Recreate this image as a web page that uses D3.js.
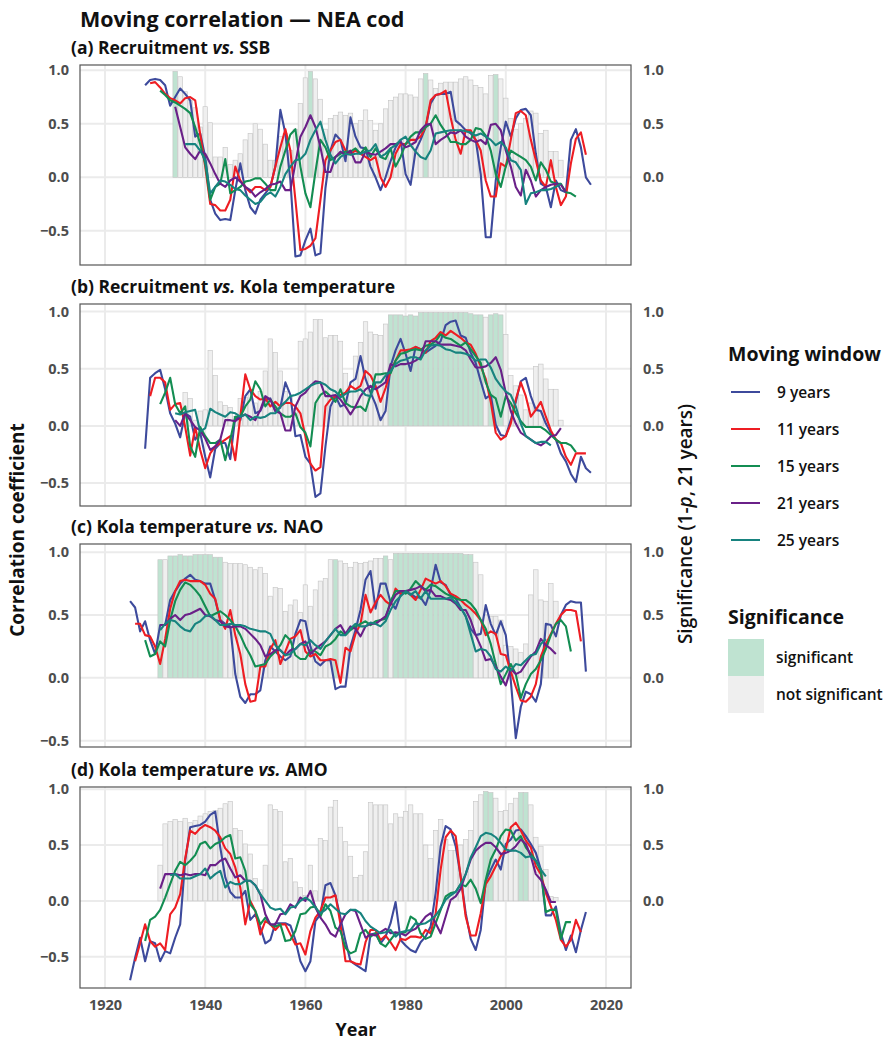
<!DOCTYPE html>
<html>
<head>
<meta charset="utf-8">
<script src="https://cdnjs.cloudflare.com/ajax/libs/d3/7.8.5/d3.min.js"></script>
<style>
  body { margin: 0; background: #fff; }
  svg { font-family: "Open Sans", "Noto Sans", sans-serif; }
</style>
</head>
<body>
<script>
// ---- data ----
const windows = ['9 years', '11 years', '15 years', '21 years', '25 years'];

// (a) Recruitment vs. SSB
const aStart = [1928, 1929, 1931, 1934, 1936];
const aW9 = [0.86, 0.91, 0.92, 0.91, 0.86, 0.67, 0.75, 0.83, 0.78, 0.72,
  0.38, 0.41, 0.19, -0.21, -0.34, -0.40, -0.39, -0.40, -0.12, 0.13,
  -0.12, -0.28, -0.34, -0.21, -0.15, -0.09, 0.10, 0.63, 0.41, -0.03,
  -0.74, -0.73, -0.59, -0.48, -0.73, -0.71, -0.10, 0.25, 0.40, 0.35,
  0.15, 0.56, 0.38, 0.28, 0.27, 0.10, 0.0, -0.12, 0.0, 0.15,
  0.28, 0.35, 0.03, -0.07, 0.25, 0.35, 0.47, 0.69, 0.77, 0.78,
  0.78, 0.80, 0.53, 0.49, 0.44, 0.41, 0.35, 0.03, -0.56, -0.56,
  -0.03, 0.28, 0.52, 0.38, 0.55, 0.63, 0.64, 0.58, 0.22, -0.06,
  -0.09, -0.28, -0.03, -0.12, -0.14, 0.35, 0.45, 0.28, 0.0, -0.07];
const aW11 = [0.88, 0.89, 0.84, 0.78, 0.74, 0.72, 0.69, 0.74, 0.75, 0.72,
  0.40, 0.10, -0.25, -0.26, -0.31, -0.31, -0.21, 0.10, -0.03, -0.09,
  -0.14, -0.09, -0.09, -0.12, -0.09, 0.10, 0.28, 0.45, 0.25, -0.21,
  -0.68, -0.67, -0.64, -0.57, -0.21, 0.16, 0.25, 0.33, 0.35, 0.25,
  0.22, 0.25, 0.22, 0.19, 0.16, 0.19, 0.0, -0.09, 0.0, 0.22,
  0.31, 0.31, 0.35, 0.35, 0.38, 0.47, 0.72, 0.77, 0.78, 0.81,
  0.56, 0.35, 0.22, 0.44, 0.44, 0.35, 0.25, -0.03, -0.18, -0.18,
  0.13, 0.10, 0.35, 0.60, 0.62, 0.58, 0.35, 0.16, -0.03, -0.09,
  0.16, -0.09, -0.26, -0.18, 0.13, 0.36, 0.42, 0.21];
const aW15 = [0.81, 0.77, 0.72, 0.70, 0.67, 0.64, 0.60, 0.47, 0.31, 0.13,
  -0.21, -0.09, -0.06, 0.17, -0.15, -0.12, -0.09, -0.04, -0.03, -0.01,
  -0.01, -0.06, -0.12, -0.12, 0.10, 0.25, 0.40, 0.45, 0.10, -0.15,
  -0.28, 0.05, 0.35, 0.28, 0.16, 0.19, 0.22, 0.24, 0.24, 0.27,
  0.22, 0.28, 0.19, 0.27, 0.19, 0.17, 0.27, 0.10, 0.19, 0.31,
  0.38, 0.42, 0.42, 0.47, 0.50, 0.58, 0.49, 0.42, 0.33, 0.33,
  0.31, 0.31, 0.35, 0.46, 0.45, 0.39, 0.25, 0.03, -0.09, 0.10,
  0.25, 0.22, 0.19, 0.16, 0.10, -0.03, 0.14, 0.07, -0.04, -0.06,
  -0.06, -0.14, -0.15, -0.18];
const aW21 = [0.66, 0.47, 0.28, 0.22, 0.17, 0.25, 0.22, 0.13, 0.03, -0.06,
  -0.09, -0.03, 0.0, -0.04, -0.09, -0.12, -0.18, -0.14, -0.11, -0.07,
  -0.06, -0.04, -0.12, -0.12, 0.13, 0.38, 0.47, 0.58, 0.47, 0.28,
  0.05, 0.05, 0.19, 0.24, 0.21, 0.25, 0.14, 0.14, 0.24, 0.22,
  0.21, 0.24, 0.27, 0.31, 0.31, 0.33, 0.28, 0.30, 0.33, 0.44,
  0.49, 0.50, 0.31, 0.35, 0.38, 0.42, 0.41, 0.44, 0.38, 0.35,
  0.33, 0.35, 0.31, 0.49, 0.50, 0.44, 0.25, 0.10, -0.09, -0.17,
  0.07, -0.03, -0.18, -0.12, -0.09, -0.07, -0.06, -0.07, -0.14];
const aW25 = [0.31, 0.31, 0.31, 0.25, 0.16, -0.15, -0.09, -0.03, -0.04, -0.07,
  -0.11, -0.12, -0.17, -0.21, -0.25, -0.23, -0.17, -0.14, -0.18, -0.09,
  0.03, 0.10, 0.16, 0.17, 0.22, 0.35, 0.44, 0.52, 0.35, 0.21,
  0.13, 0.19, 0.22, 0.21, 0.22, 0.22, 0.24, 0.25, 0.31, 0.19,
  0.22, 0.27, 0.30, 0.35, 0.38, 0.30, 0.24, 0.19, 0.17, 0.25,
  0.41, 0.42, 0.43, 0.44, 0.44, 0.44, 0.43, 0.42, 0.39, 0.41,
  0.38, 0.35, 0.30, 0.33, 0.28, 0.16, 0.14, 0.07, -0.25, -0.15,
  -0.14, -0.12, -0.12, -0.11, -0.09, -0.06];
const aBarStart = 1934;
const aBars = [0.99, 0.94, 0.80, 0.72, 0.65, 0.47, 0.66, 0.51, 0.19, 0.19,
  0.28, 0.12, 0.16, 0.22, 0.35, 0.41, 0.50, 0.45, 0.31, 0.16,
  0.16, 0.38, 0.41, 0.25, 0.45, 0.69, 0.93, 0.99, 0.92, 0.73,
  0.45, 0.55, 0.58, 0.61, 0.58, 0.60, 0.50, 0.53, 0.63, 0.53,
  0.44, 0.50, 0.64, 0.72, 0.75, 0.78, 0.78, 0.77, 0.75, 0.92,
  0.97, 0.91, 0.83, 0.88, 0.89, 0.89, 0.89, 0.92, 0.94, 0.91,
  0.86, 0.84, 0.78, 0.95, 0.96, 0.92, 0.74, 0.55, 0.45, 0.50,
  0.55, 0.62, 0.60, 0.41, 0.44, 0.24, 0.24, 0.16];
const aSig = [1934, 1961, 1984, 1998];

// (b) Recruitment vs. Kola temperature
const bStart = [1928, 1929, 1931, 1934, 1934];
const bW9 = [-0.20, 0.42, 0.46, 0.49, 0.32, 0.11, 0.02, -0.10, 0.11, 0.08,
  -0.12, -0.06, -0.27, -0.45, -0.20, -0.15, -0.15, -0.29, 0.08, 0.05,
  0.26, 0.32, 0.11, 0.13, 0.23, 0.24, 0.13, 0.16, 0.38, 0.27,
  -0.09, -0.08, -0.27, -0.33, -0.62, -0.59, -0.18, 0.17, 0.26, 0.17,
  0.19, 0.38, 0.41, 0.61, 0.41, 0.29, 0.19, 0.05, 0.13, 0.52,
  0.66, 0.76, 0.63, 0.48, 0.69, 0.67, 0.64, 0.67, 0.70, 0.74,
  0.88, 0.91, 0.92, 0.79, 0.77, 0.64, 0.55, 0.39, 0.24, 0.27,
  0.01, -0.08, -0.09, 0.05, 0.21, 0.39, 0.42, 0.26, 0.14, 0.13,
  0.02, -0.06, -0.12, -0.24, -0.31, -0.42, -0.49, -0.27, -0.37, -0.41];
const bW11 = [0.26, 0.42, 0.42, 0.38, 0.14, 0.19, 0.20, -0.01, -0.26, -0.01,
  -0.21, -0.37, -0.24, -0.18, -0.15, -0.12, -0.09, -0.30, 0.08, 0.45,
  0.32, 0.26, 0.23, 0.24, 0.17, 0.21, 0.17, 0.20, 0.20, 0.17,
  0.11, -0.09, -0.33, -0.39, -0.36, 0.17, 0.23, 0.26, 0.27, 0.29,
  0.35, 0.32, 0.35, 0.48, 0.44, 0.35, 0.21, 0.33, 0.48, 0.57,
  0.66, 0.66, 0.67, 0.69, 0.67, 0.64, 0.74, 0.77, 0.82, 0.79,
  0.83, 0.80, 0.77, 0.73, 0.71, 0.63, 0.52, 0.41, 0.21, -0.06,
  -0.12, -0.09, 0.02, 0.23, 0.38, 0.26, 0.08, 0.14, 0.21, 0.08,
  -0.04, -0.12, -0.15, -0.27, -0.34, -0.24, -0.24, -0.24];
const bW15 = [0.19, 0.29, 0.42, 0.19, 0.11, 0.17, -0.18, -0.27, -0.01, -0.09,
  -0.15, -0.15, -0.12, -0.30, -0.12, 0.08, 0.08, 0.17, 0.23, 0.39,
  0.32, 0.17, 0.23, 0.17, 0.11, 0.08, 0.08, 0.11, -0.01, -0.06,
  -0.18, 0.20, 0.27, 0.30, 0.26, 0.21, 0.32, 0.20, 0.17, 0.16,
  0.17, 0.13, 0.27, 0.45, 0.45, 0.46, 0.46, 0.57, 0.63, 0.64,
  0.66, 0.67, 0.66, 0.70, 0.71, 0.74, 0.80, 0.77, 0.76, 0.73,
  0.70, 0.73, 0.67, 0.61, 0.55, 0.38, 0.27, 0.24, 0.08, 0.26,
  0.20, 0.11, 0.04, -0.01, -0.01, -0.01, -0.01, -0.04, -0.08, -0.12,
  -0.15, -0.15, -0.17, -0.23];
const bW21 = [0.05, 0.0, 0.11, 0.05, -0.01, -0.04, -0.11, -0.21, -0.18, -0.12,
  0.05, 0.05, 0.04, 0.08, 0.10, 0.08, 0.05, 0.14, 0.26, 0.23,
  0.13, 0.11, -0.04, -0.04, 0.17, 0.26, 0.29, 0.35, 0.39, 0.38,
  0.26, 0.26, 0.27, 0.23, 0.17, 0.10, 0.17, 0.26, 0.32, 0.35,
  0.32, 0.35, 0.38, 0.54, 0.52, 0.54, 0.54, 0.55, 0.57, 0.60,
  0.74, 0.74, 0.74, 0.71, 0.71, 0.71, 0.70, 0.69, 0.66, 0.58,
  0.51, 0.51, 0.52, 0.55, 0.60, 0.49, 0.29, 0.13, 0.02, -0.06,
  -0.09, -0.12, -0.15, -0.17, -0.14, -0.09, -0.08, -0.02];
const bW25 = [0.11, 0.10, 0.12, 0.13, 0.14, -0.05, -0.02, 0.15, 0.12, 0.10,
  0.08, 0.12, 0.11, 0.08, 0.10, 0.05, 0.08, 0.07, 0.08, 0.11,
  0.11, 0.17, 0.21, 0.26, 0.27, 0.29, 0.32, 0.35, 0.37, 0.38,
  0.36, 0.32, 0.30, 0.25, 0.28, 0.30, 0.30, 0.32, 0.27, 0.26,
  0.38, 0.38, 0.44, 0.48, 0.54, 0.57, 0.58, 0.60, 0.60, 0.58,
  0.66, 0.70, 0.71, 0.70, 0.67, 0.66, 0.64, 0.64, 0.63, 0.61,
  0.57, 0.58, 0.58, 0.51, 0.41, 0.35, 0.30, 0.27, 0.17, 0.02,
  -0.09, -0.12, -0.15, -0.14, -0.14, -0.17];
const bBarStart = 1936;
const bBars = [0.29, 0.24, 0.05, 0.13, 0.14, 0.66, 0.44, 0.21, 0.18, 0.16,
  0.08, 0.24, 0.25, 0.30, 0.20, 0.30, 0.48, 0.76, 0.64, 0.48,
  0.30, 0.25, 0.15, 0.74, 0.76, 0.82, 0.93, 0.93, 0.77, 0.79,
  0.79, 0.74, 0.46, 0.30, 0.61, 0.73, 0.91, 0.82, 0.80, 0.79,
  0.89, 0.97, 0.97, 0.97, 0.96, 0.97, 0.96, 0.99, 0.99, 0.99,
  0.99, 0.99, 0.99, 0.99, 0.99, 0.99, 0.99, 0.98, 0.97, 0.97,
  0.95, 0.97, 0.98, 0.97, 0.80, 0.44, 0.35, 0.27, 0.14, 0.20,
  0.52, 0.54, 0.41, 0.32, 0.32, 0.05];
const bSig = [1977, 1978, 1979, 1980, 1981, 1982, 1983, 1984, 1985, 1986, 1987,
  1988, 1989, 1990, 1991, 1992, 1993, 1994, 1995, 1997, 1998, 1999];

// (c) Kola temperature vs. NAO
const cStart = [1925, 1926, 1928, 1931, 1931];
const cW9 = [0.61, 0.56, 0.37, 0.45, 0.30, 0.19, 0.42, 0.42, 0.62, 0.69,
  0.75, 0.79, 0.82, 0.78, 0.77, 0.75, 0.75, 0.62, 0.46, 0.43,
  0.41, 0.03, -0.15, -0.20, -0.13, -0.13, -0.10, 0.14, 0.25, 0.21,
  0.17, 0.14, 0.17, 0.35, 0.46, 0.45, 0.25, 0.13, 0.10, 0.14,
  0.14, -0.09, -0.07, -0.07, 0.25, 0.38, 0.54, 0.78, 0.85, 0.55,
  0.75, 0.75, 0.60, 0.55, 0.66, 0.68, 0.67, 0.64, 0.64, 0.58,
  0.70, 0.90, 0.76, 0.74, 0.66, 0.63, 0.56, 0.49, 0.39, 0.34,
  0.35, 0.58, 0.43, 0.34, 0.45, 0.34, -0.02, -0.48, -0.23, -0.11,
  -0.13, -0.19, -0.05, 0.43, 0.42, 0.33, 0.50, 0.58, 0.61, 0.60,
  0.60, 0.05];
const cW11 = [0.43, 0.43, 0.34, 0.33, 0.25, 0.11, 0.31, 0.55, 0.69, 0.77,
  0.78, 0.77, 0.77, 0.77, 0.74, 0.67, 0.63, 0.46, 0.39, 0.54,
  0.34, 0.19, -0.05, -0.19, -0.18, 0.09, 0.09, 0.23, 0.30, 0.11,
  0.21, 0.31, 0.33, 0.38, 0.21, 0.17, 0.19, 0.14, 0.14, 0.15,
  0.14, -0.04, 0.24, 0.21, 0.35, 0.43, 0.66, 0.52, 0.60, 0.66,
  0.61, 0.58, 0.71, 0.67, 0.69, 0.66, 0.62, 0.70, 0.79, 0.77,
  0.75, 0.77, 0.73, 0.67, 0.65, 0.62, 0.58, 0.55, 0.51, 0.46,
  0.34, 0.37, 0.35, 0.19, 0.18, 0.05, -0.07, -0.18, -0.19, -0.15,
  -0.05, 0.17, 0.27, 0.35, 0.43, 0.50, 0.54, 0.54, 0.53, 0.29];
const cW15 = [0.30, 0.17, 0.19, 0.29, 0.25, 0.46, 0.61, 0.70, 0.76, 0.74,
  0.70, 0.65, 0.57, 0.49, 0.51, 0.53, 0.50, 0.46, 0.41, 0.34,
  0.25, 0.18, 0.09, 0.10, 0.11, 0.17, 0.21, 0.26, 0.34, 0.30,
  0.18, 0.15, 0.15, 0.22, 0.21, 0.18, 0.25, 0.27, 0.31, 0.37,
  0.34, 0.38, 0.41, 0.43, 0.45, 0.42, 0.45, 0.46, 0.47, 0.61,
  0.69, 0.69, 0.67, 0.71, 0.77, 0.73, 0.70, 0.74, 0.73, 0.70,
  0.67, 0.65, 0.63, 0.62, 0.62, 0.59, 0.54, 0.46, 0.39, 0.27,
  0.11, -0.05, 0.03, 0.11, 0.03, -0.16, -0.05, 0.03, 0.07, 0.14,
  0.23, 0.34, 0.43, 0.46, 0.41, 0.21];
const cW21 = [0.42, 0.42, 0.47, 0.50, 0.46, 0.50, 0.51, 0.53, 0.55, 0.50,
  0.49, 0.46, 0.45, 0.41, 0.40, 0.41, 0.41, 0.39, 0.35, 0.31,
  0.26, 0.17, 0.19, 0.22, 0.22, 0.18, 0.22, 0.23, 0.27, 0.29,
  0.19, 0.23, 0.26, 0.29, 0.34, 0.39, 0.42, 0.35, 0.41, 0.39,
  0.33, 0.41, 0.43, 0.43, 0.46, 0.49, 0.59, 0.66, 0.69, 0.69,
  0.70, 0.71, 0.73, 0.69, 0.70, 0.65, 0.65, 0.63, 0.62, 0.59,
  0.54, 0.54, 0.46, 0.34, 0.25, 0.14, 0.15, 0.09, 0.01, -0.06,
  0.07, 0.03, 0.05, 0.11, 0.17, 0.21, 0.31, 0.26, 0.23, 0.19];
const cW25 = [0.38, 0.43, 0.46, 0.45, 0.41, 0.38, 0.37, 0.43, 0.45, 0.49,
  0.50, 0.46, 0.42, 0.42, 0.43, 0.42, 0.42, 0.41, 0.39, 0.38,
  0.37, 0.37, 0.35, 0.26, 0.22, 0.18, 0.19, 0.23, 0.27, 0.26,
  0.30, 0.26, 0.23, 0.29, 0.34, 0.39, 0.34, 0.34, 0.39, 0.43,
  0.41, 0.41, 0.44, 0.43, 0.41, 0.45, 0.54, 0.61, 0.65, 0.69,
  0.66, 0.69, 0.63, 0.69, 0.63, 0.63, 0.63, 0.63, 0.64, 0.60,
  0.56, 0.49, 0.35, 0.21, 0.23, 0.22, 0.17, 0.07, 0.05, 0.09,
  0.06, 0.11, 0.10, 0.14, 0.18, 0.19, 0.27, 0.31];
const cBarStart = 1931;
const cBars = [0.94, 0.94, 0.97, 0.97, 0.98, 0.97, 0.97, 0.98, 0.98, 0.98,
  0.98, 0.96, 0.96, 0.92, 0.91, 0.91, 0.91, 0.90, 0.88, 0.86,
  0.88, 0.83, 0.65, 0.72, 0.71, 0.53, 0.58, 0.62, 0.52, 0.74,
  0.57, 0.70, 0.77, 0.79, 0.94, 0.94, 0.93, 0.91, 0.88, 0.92,
  0.91, 0.92, 0.93, 0.95, 0.95, 0.97, 0.94, 0.99, 0.99, 0.99,
  0.99, 0.99, 0.99, 0.99, 0.99, 0.99, 0.99, 0.99, 0.99, 0.99,
  0.99, 0.98, 0.98, 0.92, 0.82, 0.50, 0.49, 0.49, 0.46, 0.26,
  0.25, 0.23, 0.20, 0.27, 0.66, 0.86, 0.62, 0.61, 0.75, 0.61];
const cSig = [1931, 1933, 1934, 1935, 1936, 1937, 1938, 1939, 1940, 1941, 1942, 1943,
  1966, 1976, 1978, 1979, 1980, 1981, 1982, 1983, 1984, 1985, 1986, 1987,
  1988, 1989, 1990, 1991, 1992, 1993];

// (d) Kola temperature vs. AMO
const dStart = [1925, 1926, 1928, 1931, 1933];
const dW9 = [-0.71, -0.51, -0.33, -0.54, -0.36, -0.38, -0.54, -0.45, -0.47, -0.33,
  -0.21, 0.36, 0.66, 0.67, 0.68, 0.71, 0.77, 0.80, 0.48, 0.21,
  0.08, 0.03, 0.03, 0.09, -0.17, -0.12, -0.24, -0.38, -0.35, -0.20,
  -0.20, -0.20, -0.22, -0.35, -0.54, -0.63, -0.54, -0.18, -0.12, 0.14,
  0.16, 0.05, -0.15, -0.36, -0.54, -0.57, -0.60, -0.63, -0.30, -0.29,
  -0.38, -0.32, -0.20, -0.01, -0.35, -0.40, -0.44, -0.46, -0.37, -0.32,
  -0.23, 0.07, 0.49, 0.67, 0.64, 0.49, 0.22, -0.11, -0.34, -0.44,
  -0.26, 0.18, 0.28, 0.37, 0.28, 0.51, 0.55, 0.63, 0.64, 0.58,
  0.51, 0.43, 0.28, -0.13, -0.13, -0.05, -0.29, -0.44, -0.31, -0.46,
  -0.26, -0.10];
const dW11 = [-0.54, -0.38, -0.21, -0.36, -0.41, -0.38, -0.44, -0.12, -0.06, 0.06,
  0.38, 0.63, 0.60, 0.65, 0.68, 0.66, 0.63, 0.57, 0.47, 0.42,
  0.30, 0.12, -0.21, 0.0, -0.09, -0.30, -0.18, -0.21, -0.26, -0.21,
  -0.21, -0.30, -0.39, -0.38, -0.48, -0.27, -0.15, -0.09, 0.03, 0.03,
  0.05, -0.21, -0.54, -0.54, -0.56, -0.57, -0.37, -0.26, -0.26, -0.35,
  -0.31, -0.37, -0.44, -0.34, -0.35, -0.32, -0.32, -0.33, -0.26, -0.29,
  -0.11, 0.28, 0.57, 0.63, 0.58, 0.21, -0.14, -0.31, -0.31, -0.11,
  0.15, 0.22, 0.31, 0.40, 0.46, 0.66, 0.70, 0.63, 0.54, 0.48,
  0.31, 0.24, 0.07, -0.05, -0.17, -0.35, -0.41, -0.35, -0.17, -0.28];
const dW15 = [-0.36, -0.17, -0.14, -0.08, 0.03, 0.15, 0.27, 0.35, 0.32, 0.36,
  0.41, 0.51, 0.53, 0.47, 0.51, 0.53, 0.57, 0.59, 0.38, 0.39,
  0.27, -0.03, -0.09, -0.21, -0.15, -0.21, -0.23, -0.21, -0.36, -0.35,
  -0.27, -0.12, -0.11, -0.06, -0.05, -0.14, -0.03, -0.09, -0.24, -0.27,
  -0.42, -0.47, -0.45, -0.29, -0.26, -0.32, -0.29, -0.38, -0.41, -0.35,
  -0.29, -0.29, -0.28, -0.14, -0.17, -0.29, -0.34, -0.32, -0.20, -0.08,
  0.04, 0.07, 0.08, 0.15, 0.13, 0.19, 0.11, -0.02, 0.19, 0.37,
  0.46, 0.58, 0.64, 0.63, 0.54, 0.58, 0.48, 0.42, 0.36, 0.27,
  -0.10, -0.08, -0.08, -0.34, -0.19, -0.19];
const dW21 = [0.11, 0.24, 0.24, 0.24, 0.23, 0.24, 0.23, 0.24, 0.24, 0.23,
  0.32, 0.32, 0.36, 0.38, 0.29, 0.21, 0.23, 0.18, 0.18, 0.14,
  0.06, -0.12, -0.21, -0.21, -0.12, -0.11, -0.03, -0.06, 0.03, 0.0,
  0.09, -0.06, -0.15, -0.21, -0.29, -0.32, -0.21, -0.12, -0.08, -0.09,
  -0.21, -0.33, -0.30, -0.31, -0.28, -0.25, -0.29, -0.28, -0.29, -0.31,
  -0.27, -0.25, -0.20, -0.14, -0.11, -0.20, -0.29, -0.14, 0.01, 0.04,
  0.11, 0.24, 0.37, 0.45, 0.49, 0.52, 0.52, 0.48, 0.42, 0.43,
  0.45, 0.49, 0.55, 0.51, 0.40, 0.24, 0.19, 0.10, -0.01, -0.01];
const dW25 = [0.23, 0.24, 0.20, 0.20, 0.20, 0.22, 0.24, 0.29, 0.20, 0.24,
  0.27, 0.12, 0.17, 0.15, 0.15, 0.18, 0.18, 0.14, 0.06, 0.0,
  -0.06, -0.08, -0.07, -0.12, -0.06, -0.05, 0.0, 0.03, 0.0, -0.06,
  -0.11, -0.08, -0.03, -0.07, -0.11, -0.12, -0.08, -0.08, -0.11, -0.18,
  -0.23, -0.26, -0.29, -0.28, -0.26, -0.32, -0.28, -0.27, -0.26, -0.20,
  -0.21, -0.20, -0.17, -0.13, -0.07, 0.01, 0.05, 0.08, 0.15, 0.24,
  0.39, 0.48, 0.58, 0.61, 0.60, 0.57, 0.52, 0.46, 0.45, 0.45,
  0.43, 0.39, 0.40, 0.36, 0.28, 0.22];
const dBarStart = 1931;
const dBars = [0.32, 0.69, 0.71, 0.73, 0.71, 0.74, 0.70, 0.72, 0.76, 0.78,
  0.80, 0.81, 0.83, 0.87, 0.89, 0.65, 0.63, 0.51, 0.42, 0.20,
  0.10, 0.32, 0.86, 0.82, 0.80, 0.35, 0.38, 0.17, 0.12, 0.05,
  0.32, 0.09, 0.56, 0.54, 0.84, 0.90, 0.66, 0.53, 0.40, 0.21,
  0.23, 0.44, 0.88, 0.86, 0.86, 0.86, 0.69, 0.78, 0.75, 0.80,
  0.86, 0.78, 0.78, 0.50, 0.38, 0.63, 0.73, 0.55, 0.45, 0.45,
  0.50, 0.55, 0.63, 0.89, 0.95, 0.98, 0.97, 0.92, 0.80, 0.81,
  0.87, 0.92, 0.97, 0.97, 0.86, 0.57, 0.49, 0.28, 0.04, 0.03];
const dSig = [1996, 1997, 2003, 2004];

const xTicks = [1920, 1940, 1960, 1980, 2000, 2020];
const yTicks = [-0.5, 0, 0.5, 1];
const sigTicks = [0, 0.5, 1];

// ---- layout ----
const width = 886, height = 1040;
const left = 80, right = 631;
const font = '"Open Sans", "Noto Sans", sans-serif';
const colors = ['#3d4a9c', '#ee1d23', '#138d52', '#6a2088', '#17837f'];
const sigFill = '#bfe3d1', nonSigFill = '#efefef';
const textGray = '#4d4d4d';

const panels = [
  { id: 'a', pre: '(a) Recruitment ', post: ' SSB', top: 65, bottom: 265, domain: [-0.82, 1.05],
    starts: aStart, series: [aW9, aW11, aW15, aW21, aW25], barStart: aBarStart, bars: aBars, sig: aSig },
  { id: 'b', pre: '(b) Recruitment ', post: ' Kola temperature', top: 304, bottom: 506, domain: [-0.70, 1.065],
    starts: bStart, series: [bW9, bW11, bW15, bW21, bW25], barStart: bBarStart, bars: bBars, sig: bSig },
  { id: 'c', pre: '(c) Kola temperature ', post: ' NAO', top: 544, bottom: 747, domain: [-0.55, 1.065],
    starts: cStart, series: [cW9, cW11, cW15, cW21, cW25], barStart: cBarStart, bars: cBars, sig: cSig },
  { id: 'd', pre: '(d) Kola temperature ', post: ' AMO', top: 787, bottom: 988, domain: [-0.78, 1.02],
    starts: dStart, series: [dW9, dW11, dW15, dW21, dW25], barStart: dBarStart, bars: dBars, sig: dSig }
];

const svg = d3.select('body').append('svg')
  .attr('width', width)
  .attr('height', height);

svg.append('rect').attr('width', width).attr('height', height).attr('fill', '#fff');

const x = d3.scaleLinear().domain([1915, 2025]).range([left, right]);

// main title
svg.append('text')
  .attr('x', 80).attr('y', 27)
  .attr('font-size', 21.5).attr('font-weight', 700).attr('fill', '#111')
  .text('Moving correlation \u2014 NEA cod');

panels.forEach((p, pi) => {
  const y = d3.scaleLinear().domain(p.domain).range([p.bottom, p.top]);
  const g = svg.append('g').attr('class', 'panel-' + p.id);

  // panel title
  const t = g.append('text')
    .attr('x', 71).attr('y', p.top - 11)
    .attr('font-size', 17.5).attr('font-weight', 700).attr('fill', '#111');
  t.append('tspan').text(p.pre);
  t.append('tspan').attr('font-style', 'italic').text('vs.');
  t.append('tspan').text(p.post);

  // grid
  g.append('g').selectAll('line')
    .data(xTicks).enter().append('line')
    .attr('x1', d => x(d)).attr('x2', d => x(d))
    .attr('y1', p.top).attr('y2', p.bottom)
    .attr('stroke', '#ebebeb').attr('stroke-width', 2);
  g.append('g').selectAll('line')
    .data(yTicks.filter(d => d >= p.domain[0] && d <= p.domain[1])).enter().append('line')
    .attr('x1', left).attr('x2', right)
    .attr('y1', d => y(d)).attr('y2', d => y(d))
    .attr('stroke', '#ebebeb').attr('stroke-width', 2);

  // significance bars
  const barData = p.bars.map((v, i) => ({ year: p.barStart + i, value: v }));
  g.append('g').selectAll('rect')
    .data(barData).enter().append('rect')
    .attr('x', d => x(d.year - 0.45))
    .attr('width', d => x(d.year + 0.45) - x(d.year - 0.45))
    .attr('y', d => y(d.value))
    .attr('height', d => y(0) - y(d.value))
    .attr('fill', d => p.sig.includes(d.year) ? sigFill : nonSigFill)
    .attr('stroke', '#c4c4c4')
    .attr('stroke-width', 0.6);

  // lines
  const line = d3.line()
    .x(d => x(d.year))
    .y(d => y(d.value));
  p.series.forEach((vals, si) => {
    const data = vals.map((v, i) => ({ year: p.starts[si] + i, value: v }));
    g.append('path')
      .datum(data)
      .attr('fill', 'none')
      .attr('stroke', colors[si])
      .attr('stroke-width', 2.1)
      .attr('stroke-linejoin', 'round')
      .attr('d', line);
  });

  // border
  g.append('rect')
    .attr('x', left).attr('y', p.top)
    .attr('width', right - left).attr('height', p.bottom - p.top)
    .attr('fill', 'none').attr('stroke', '#555').attr('stroke-width', 1.2);

  // axes
  const yAxis = g.append('g')
    .attr('transform', `translate(${left},0)`)
    .call(d3.axisLeft(y).tickValues(yTicks.filter(d => d >= p.domain[0] && d <= p.domain[1]))
      .tickSize(0).tickPadding(11).tickFormat(d3.format('.1f')));
  const sAxis = g.append('g')
    .attr('transform', `translate(${right},0)`)
    .call(d3.axisRight(y).tickValues(sigTicks)
      .tickSize(0).tickPadding(12).tickFormat(d3.format('.1f')));
  [yAxis, sAxis].forEach(ax => {
    ax.select('.domain').remove();
    ax.selectAll('text')
      .attr('font-family', font)
      .attr('font-size', 14.5).attr('font-weight', 700).attr('fill', textGray);
  });

  if (pi === panels.length - 1) {
    const xAxis = g.append('g')
      .attr('transform', `translate(0,${p.bottom})`)
      .call(d3.axisBottom(x).tickValues(xTicks).tickSize(0).tickPadding(12).tickFormat(d3.format('d')));
    xAxis.select('.domain').remove();
    xAxis.selectAll('text')
      .attr('font-family', font)
      .attr('font-size', 14.5).attr('font-weight', 700).attr('fill', textGray);
  }
});

// axis titles
svg.append('text')
  .attr('transform', 'translate(24,530) rotate(-90)')
  .attr('text-anchor', 'middle')
  .attr('font-size', 19).attr('font-weight', 700).attr('fill', '#111')
  .text('Correlation coefficient');

const rt = svg.append('text')
  .attr('transform', 'translate(692,524) rotate(-90)')
  .attr('text-anchor', 'middle')
  .attr('font-size', 19).attr('font-weight', 600).attr('fill', '#111');
rt.append('tspan').text('Significance (1-');
rt.append('tspan').attr('font-style', 'italic').text('p');
rt.append('tspan').text(', 21 years)');

svg.append('text')
  .attr('x', 356).attr('y', 1036)
  .attr('text-anchor', 'middle')
  .attr('font-size', 18).attr('font-weight', 700).attr('fill', '#111')
  .text('Year');

// legend: moving window
const lg = svg.append('g').attr('transform', 'translate(728,0)');
lg.append('text')
  .attr('x', 0).attr('y', 361)
  .attr('font-size', 19.5).attr('font-weight', 700).attr('fill', '#111')
  .text('Moving window');
windows.forEach((w, i) => {
  const yy = 392 + i * 37;
  lg.append('line')
    .attr('x1', 3).attr('x2', 32).attr('y1', yy).attr('y2', yy)
    .attr('stroke', colors[i]).attr('stroke-width', 2);
  lg.append('text')
    .attr('x', 49).attr('y', yy + 6)
    .attr('font-size', 15.5).attr('font-weight', 600).attr('fill', '#111')
    .text(w);
});

// legend: significance
lg.append('text')
  .attr('x', 0).attr('y', 624)
  .attr('font-size', 19.5).attr('font-weight', 700).attr('fill', '#111')
  .text('Significance');
const sigKeys = [['significant', sigFill], ['not significant', nonSigFill]];
sigKeys.forEach((k, i) => {
  const yy = 639 + i * 37;
  lg.append('rect')
    .attr('x', 0).attr('y', yy).attr('width', 36).attr('height', 37)
    .attr('fill', k[1]);
  lg.append('text')
    .attr('x', 48).attr('y', yy + 24)
    .attr('font-size', 15.5).attr('font-weight', 600).attr('fill', '#111')
    .text(k[0]);
});
</script>
</body>
</html>
